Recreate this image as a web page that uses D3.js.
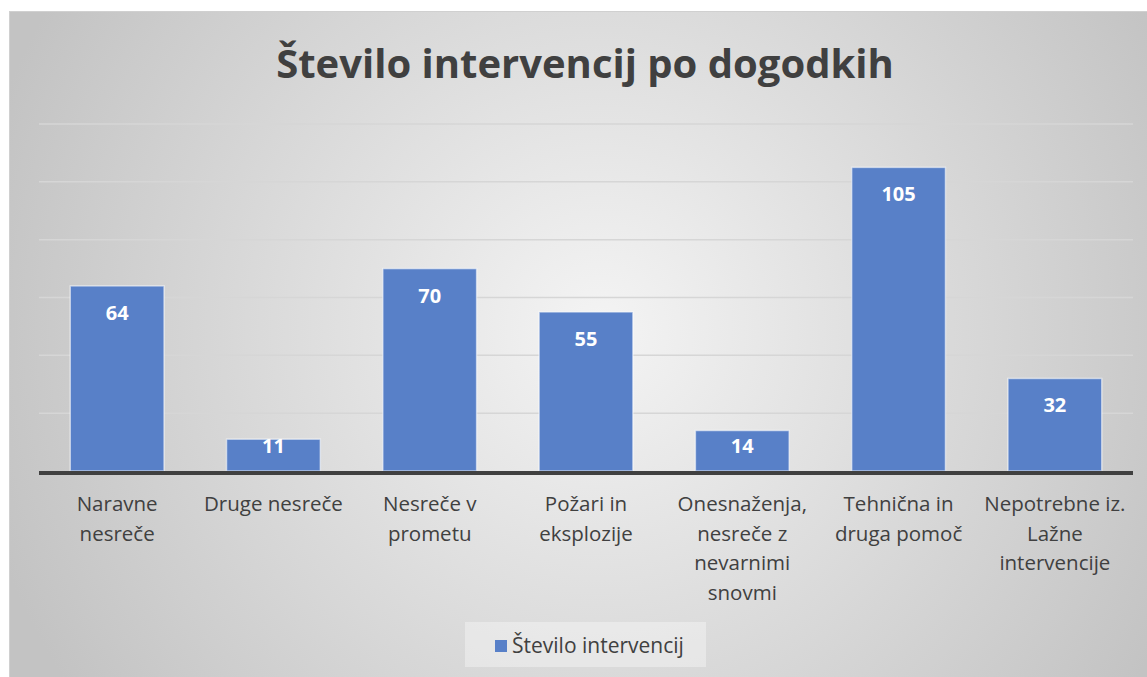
<!DOCTYPE html>
<html>
<meta charset='utf-8'>
<head>
<script src="https://d3js.org/d3.v7.min.js"></script>
<style>
  body { margin: 0; background: #fff; }
  text { font-family: "Open Sans", "Noto Sans", sans-serif; }
</style>
</head>
<body>
<div id='viz'></div>
<script>
  const categories = [
    ['Naravne', 'nesreče'],
    ['Druge nesreče'],
    ['Nesreče v', 'prometu'],
    ['Požari in', 'eksplozije'],
    ['Onesnaženja,', 'nesreče z', 'nevarnimi', 'snovmi'],
    ['Tehnična in', 'druga pomoč'],
    ['Nepotrebne iz.', 'Lažne', 'intervencije']
  ];
  const values = [64, 11, 70, 55, 14, 105, 32];
  const yTicks = [0, 20, 40, 60, 80, 100, 120];
  const seriesName = 'Število intervencij';
  const title = 'Število intervencij po dogodkih';

  const W = 1147, H = 677;
  const svg = d3.select('#viz').append('svg')
    .attr('width', W).attr('height', H);

  let defs = svg.append('defs');
  let grad = defs.append('radialGradient')
    .attr('id', 'bg').attr('gradientUnits', 'userSpaceOnUse')
    .attr('cx', 600).attr('cy', 330).attr('r', 640);
  grad.append('stop').attr('offset', '0%').attr('stop-color', '#f4f4f4');
  grad.append('stop').attr('offset', '100%').attr('stop-color', '#c3c3c3');

  svg.append('rect')
    .attr('x', 9.5).attr('y', 11.5).attr('width', W).attr('height', H)
    .attr('fill', 'url(#bg)').attr('stroke', '#d0d0d0');

  svg.append('text')
    .attr('x', 585).attr('y', 78)
    .attr('text-anchor', 'middle')
    .attr('font-size', '40px').attr('font-weight', 'bold')
    .attr('fill', '#404040')
    .text(title);

  const x = d3.scaleBand()
    .domain(d3.range(categories.length))
    .range([39, 1133])
    .paddingInner(0.4).paddingOuter(0.2);
  const y = d3.scaleLinear().domain([0, 120]).range([471, 124]);

  // gridlines
  svg.append('g').selectAll('line')
    .data(yTicks.slice(1))
    .join('line')
    .attr('x1', 39).attr('x2', 1133)
    .attr('y1', d => y(d)).attr('y2', d => y(d))
    .attr('stroke', '#d6d6d6').attr('stroke-width', 1.5);

  // bars
  svg.append('g').selectAll('rect')
    .data(values)
    .join('rect')
    .attr('x', (d, i) => x(i))
    .attr('y', d => y(d))
    .attr('width', x.bandwidth())
    .attr('height', d => y(0) - y(d))
    .attr('fill', '#5880c8')
    .attr('stroke', 'rgba(255,255,255,0.55)').attr('stroke-width', 1.5);

  // value labels (inside end, kept inside short bars)
  svg.append('g').selectAll('text')
    .data(values)
    .join('text')
    .attr('x', (d, i) => x(i) + x.bandwidth() / 2)
    .attr('y', d => Math.min(y(d) + 34, y(0) - 18))
    .attr('text-anchor', 'middle')
    .attr('font-size', '20px').attr('font-weight', 'bold')
    .attr('fill', '#fff')
    .text(d => d);

  // axis line
  svg.append('line')
    .attr('x1', 39).attr('x2', 1133)
    .attr('y1', y(0) + 2).attr('y2', y(0) + 2)
    .attr('stroke', '#404040').attr('stroke-width', 4);

  // category labels
  let cat = svg.append('g').selectAll('text')
    .data(categories)
    .join('text')
    .attr('x', (d, i) => x(i) + x.bandwidth() / 2)
    .attr('y', 511)
    .attr('text-anchor', 'middle')
    .attr('font-size', '20.5px')
    .attr('fill', '#404040');
  cat.selectAll('tspan')
    .data(d => d)
    .join('tspan')
    .attr('x', function() { return d3.select(this.parentNode).attr('x'); })
    .attr('dy', (d, i) => i == 0 ? 0 : 29.5)
    .text(d => d);

  // legend
  svg.append('rect')
    .attr('x', 465).attr('y', 622).attr('width', 241).attr('height', 45)
    .attr('fill', 'rgba(255,255,255,0.35)');
  svg.append('rect')
    .attr('x', 495).attr('y', 640).attr('width', 12).attr('height', 12)
    .attr('fill', '#5880c8');
  svg.append('text')
    .attr('x', 512).attr('y', 653)
    .attr('font-size', '21px').attr('fill', '#404040')
    .text(seriesName);
</script>
</body>
</html>
